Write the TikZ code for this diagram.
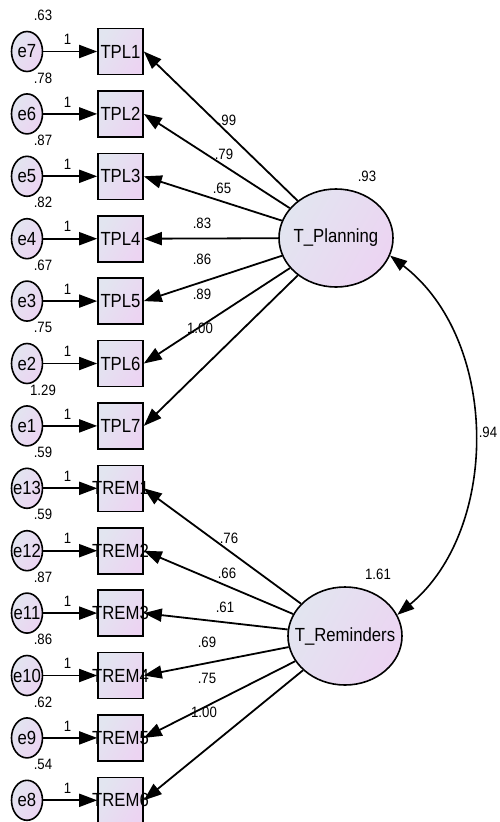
\documentclass[tikz,border=0pt]{standalone}
\usepackage{fontspec}
\setmainfont[FakeStretch=0.88]{Liberation Sans}
\usetikzlibrary{arrows.meta,shapes.geometric}
\definecolor{shA}{RGB}{226,229,240}
\definecolor{shB}{RGB}{236,212,242}
\begin{document}
\begin{tikzpicture}[x=1pt,y=-1pt,
  shadefill/.style={left color=shA, right color=shB, shading angle=60},
  evar/.style={ellipse, draw, line width=1.6pt, minimum width=31pt, minimum height=40pt, inner sep=0pt, shadefill, font=\fontsize{19}{21}\selectfont},
  obs/.style={rectangle, draw, line width=1.6pt, minimum width=45pt, minimum height=46pt, inner sep=0pt, shadefill, font=\fontsize{19}{21}\selectfont},
  lat/.style={ellipse, draw, line width=1.6pt, minimum width=114pt, minimum height=98pt, inner sep=0pt, shadefill, font=\fontsize{19}{21}\selectfont},
  lbl/.style={font=\fontsize{15}{17}\selectfont, inner sep=0pt},
  arr/.style={line width=1.8pt, -{Triangle[length=18pt,width=13pt]}},
  cov/.style={line width=1.6pt, {Triangle[length=17pt,width=12pt]}-{Triangle[length=17pt,width=12pt]}}]
\fill[white] (0,0) rectangle (499,822);
\useasboundingbox (0,0) rectangle (499,822);

% latent variables
\node[lat] (Tp) at (336,238) {\makebox[0pt]{T\_Planning}};
\node[lat] (Tr) at (345,636) {\makebox[0pt]{T\_Reminders}};
\node[lbl] (vTp) at (367,176) {.93};
\node[lbl] (vTr) at (378,574) {1.61};

% indicators with error terms
\foreach \i/\n/\e/\v in {0/TPL1/e7/.63, 1/TPL2/e6/.78, 2/TPL3/e5/.87, 3/TPL4/e4/.82,
  4/TPL5/e3/.67, 5/TPL6/e2/.75, 6/TPL7/e1/1.29, 7/TREM1/e13/.59, 8/TREM2/e12/.59,
  9/TREM3/e11/.87, 10/TREM4/e10/.86, 11/TREM5/e9/.62, 12/TREM6/e8/.54}{
  \pgfmathsetmacro{\yy}{51.5+62.4*\i}
  \node[obs] (\n) at (120.5,\yy) {\makebox[0pt]{\n}};
  \node[evar] (\e) at (27,\yy) {\makebox[0pt]{\e}};
  \node[lbl] (v\e) at (43,\yy-36) {\v};
  \draw[arr] (\e) -- (\n) node[lbl, pos=0.45, above=6pt] {1};
}

% loadings T_Planning
\foreach \n/\val/\lx/\ly in {TPL1/.99/227/120, TPL2/.79/224/154, TPL3/.65/222/188,
  TPL4/.83/202/223, TPL5/.86/202/259, TPL6/.89/202/294, TPL7/1.00/200/328}{
  \draw[arr] (Tp) -- (\n.east);
  \node[lbl] at (\lx,\ly) {\val};
}
% loadings T_Reminders
\foreach \n/\val/\lx/\ly in {TREM1/.76/229/538, TREM2/.66/227/573, TREM3/.61/225/607,
  TREM4/.69/207/642, TREM5/.75/207/678, TREM6/1.00/204/712}{
  \draw[arr] (Tr) -- (\n.east);
  \node[lbl] at (\lx,\ly) {\val};
}

% covariance
\draw[cov] (Tp.-18) .. controls (500,340) and (500,530) .. (Tr.22);
\node[lbl] (c94) at (488,432) {.94};
\end{tikzpicture}
\end{document}
